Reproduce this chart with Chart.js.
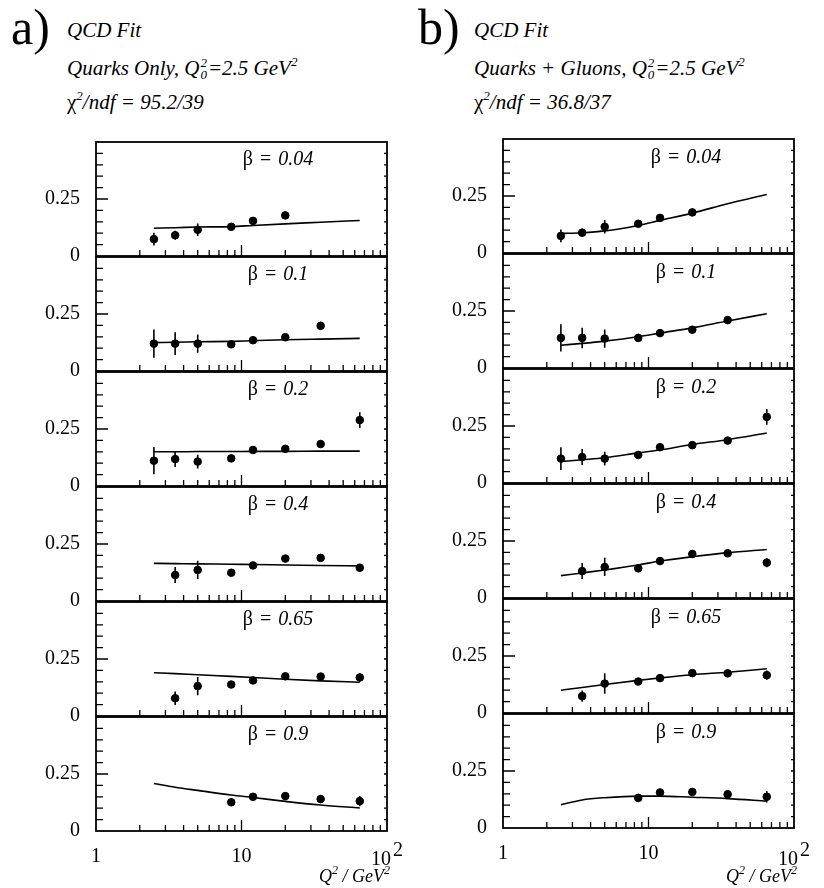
<!DOCTYPE html>
<html>
<head>
<meta charset="utf-8">
<script src="https://cdn.jsdelivr.net/npm/chart.js@4"></script>
<style>
  body { margin: 0; background: #fff; width: 824px; height: 888px; position: relative; overflow: hidden;
         font-family: "Liberation Serif", "Times New Roman", Tinos, "DejaVu Serif", "Noto Serif", FreeSerif, serif; color: #000; }
  canvas { position: absolute; }
  .txt { position: absolute; white-space: nowrap; line-height: 1; }
  .tag { font-size: 50px; }
  .hdr { font-size: 21px; font-style: italic; }
  .beta { font-size: 20px; transform: translate(-50%, -50%); word-spacing: 2px; }
  .beta i { font-style: italic; }
  .st { display: inline-flex; flex-direction: column; font-size: 13px; line-height: 12px; vertical-align: 8px; margin: 0 1px; }
  .up { font-size: 13px; vertical-align: 9px; }
  .axt { font-size: 18px; font-style: italic; }
  .axt .up { font-size: 12px; vertical-align: 8px; }
  .big { font-size: 20px; }
  .big sup { font-size: 20px; vertical-align: 9px; margin-left: 2px; }
</style>
</head>
<body>
<div id="wrap"></div>
<script>
// Q^2 bins (GeV^2) shared by all panels
const q2Bins = [2.5, 3.5, 5, 8.5, 12, 20, 35, 65];
const betaLabels = ["0.04", "0.1", "0.2", "0.4", "0.65", "0.9"];
const minorQ2Ticks = [2, 3, 4, 5, 6, 7, 8, 9, 20, 30, 40, 50, 60, 70, 80, 90];
const yTicks = [0.05, 0.1, 0.15, 0.2, 0.25, 0.3, 0.35, 0.4, 0.45];
const yLabelTicks = [0, 0.25];
const xLabelTicks = [1, 10];

// a) quarks only
const quarkPoints = [
  [0.074, 0.091, 0.115, 0.128, 0.154, 0.178, null, null],
  [0.12, 0.12, 0.12, 0.117, 0.135, 0.148, 0.198, null],
  [0.111, 0.118, 0.107, 0.121, 0.158, 0.163, 0.184, 0.289],
  [null, 0.114, 0.136, 0.124, 0.156, 0.186, 0.189, 0.146],
  [null, 0.078, 0.131, 0.138, 0.156, 0.174, 0.173, 0.169],
  [null, null, null, 0.126, 0.15, 0.153, 0.14, 0.131]
];
const quarkErrors = [
  [0.028, 0.02, 0.027, 0.008, 0.008, 0.012, null, null],
  [0.062, 0.05, 0.04, 0.008, 0.008, 0.008, 0.018, null],
  [0.06, 0.035, 0.03, 0.008, 0.006, 0.006, 0.012, 0.035],
  [null, 0.035, 0.04, 0.006, 0.006, 0.008, 0.015, 0.016],
  [null, 0.03, 0.04, 0.007, 0.007, 0.008, 0.01, 0.018],
  [null, null, null, 0.008, 0.006, 0.007, 0.01, 0.022]
];
const quarkFit = [
  [0.122, 0.124, 0.127, 0.129, 0.134, 0.141, 0.148, 0.156],
  [0.125, 0.126, 0.128, 0.13, 0.133, 0.137, 0.14, 0.143],
  [0.15, 0.15, 0.151, 0.151, 0.152, 0.152, 0.153, 0.153],
  [0.165, 0.164, 0.163, 0.161, 0.16, 0.158, 0.156, 0.154],
  [0.19, 0.186, 0.181, 0.174, 0.169, 0.161, 0.154, 0.148],
  [0.208, 0.192, 0.178, 0.158, 0.147, 0.13, 0.114, 0.101]
];

// b) quarks + gluons
const gluonPoints = [
  [0.075, 0.089, 0.115, 0.128, 0.154, 0.178, null, null],
  [0.132, 0.132, 0.129, 0.132, 0.153, 0.168, 0.21, null],
  [0.107, 0.114, 0.107, 0.123, 0.157, 0.166, 0.186, 0.29],
  [null, 0.118, 0.136, 0.13, 0.162, 0.193, 0.196, 0.155],
  [null, 0.074, 0.129, 0.138, 0.153, 0.175, 0.174, 0.166],
  [null, null, null, 0.132, 0.156, 0.158, 0.148, 0.137]
];
const gluonErrors = [
  [0.028, 0.018, 0.03, 0.007, 0.007, 0.01, null, null],
  [0.06, 0.045, 0.04, 0.007, 0.007, 0.01, 0.015, null],
  [0.05, 0.035, 0.03, 0.007, 0.006, 0.007, 0.012, 0.035],
  [null, 0.035, 0.04, 0.007, 0.007, 0.01, 0.01, 0.02],
  [null, 0.025, 0.045, 0.007, 0.007, 0.008, 0.008, 0.02],
  [null, null, null, 0.008, 0.006, 0.006, 0.01, 0.025]
];
const gluonFit = [
  [0.086, 0.089, 0.097, 0.121, 0.143, 0.175, 0.216, 0.257],
  [0.1, 0.108, 0.118, 0.137, 0.153, 0.176, 0.206, 0.238],
  [0.094, 0.102, 0.111, 0.132, 0.145, 0.169, 0.19, 0.219],
  [0.098, 0.11, 0.123, 0.145, 0.162, 0.181, 0.199, 0.213],
  [0.1, 0.112, 0.125, 0.143, 0.154, 0.168, 0.179, 0.194],
  [0.102, 0.123, 0.133, 0.14, 0.14, 0.135, 0.129, 0.118]
];

const wrap = document.getElementById("wrap");
const PANEL_H = 115, PANEL_W = 291, Y_AXIS_W = 70;
const SERIF = "'Liberation Serif', 'Times New Roman', Tinos, 'DejaVu Serif', 'Noto Serif', serif";

// frame + inward ticks, placed through the chart's own scales
const framePlugin = {
  id: "frame",
  afterDatasetsDraw(chart) {
    const { ctx, chartArea: a, scales } = chart;
    ctx.save();
    ctx.strokeStyle = "#000";
    ctx.lineWidth = 1.3;
    ctx.beginPath();
    yTicks.forEach((v) => {
      const py = scales.y.getPixelForValue(v);
      const len = Math.abs(v - 0.25) < 1e-6 ? 12 : 7;
      ctx.moveTo(a.left, py); ctx.lineTo(a.left + len, py);
      ctx.moveTo(a.right, py); ctx.lineTo(a.right - 3, py);
    });
    minorQ2Ticks.forEach((v) => {
      const px = scales.x.getPixelForValue(v);
      ctx.moveTo(px, a.bottom); ctx.lineTo(px, a.bottom - 6);
    });
    const p10 = scales.x.getPixelForValue(10);
    ctx.moveTo(p10, a.bottom); ctx.lineTo(p10, a.bottom - 11);
    ctx.stroke();
    ctx.lineWidth = 1.8;
    ctx.strokeRect(a.left, a.top, a.right - a.left, a.bottom - a.top);
    ctx.restore();
  }
};

function makePanel(areaLeft, areaTop, points, errors, fit, isBottom) {
  const padBottom = isBottom ? 0 : 12;
  const xH = isBottom ? 40 : 0;
  const canvas = document.createElement("canvas");
  canvas.width = Y_AXIS_W + PANEL_W + 8;
  canvas.height = 4 + PANEL_H + padBottom + xH;
  canvas.style.left = (areaLeft - Y_AXIS_W) + "px";
  canvas.style.top = (areaTop - 4) + "px";
  wrap.appendChild(canvas);

  const pts = [];
  const bars = [];
  q2Bins.forEach((q, i) => {
    if (points[i] == null) return;
    pts.push({ x: q, y: points[i] });
    bars.push({ x: q, y: points[i] - errors[i] }, { x: q, y: points[i] + errors[i] }, { x: q, y: null });
  });
  const curve = q2Bins.map((q, i) => ({ x: q, y: fit[i] }));

  new Chart(canvas, {
    type: "scatter",
    data: {
      datasets: [
        { data: curve, showLine: true, borderColor: "#000", borderWidth: 1.6, pointRadius: 0,
          cubicInterpolationMode: "monotone" },
        { data: bars, showLine: true, borderColor: "#000", borderWidth: 1.6, pointRadius: 0, spanGaps: false },
        { data: pts, backgroundColor: "#000", borderColor: "#000", pointRadius: 3.8, pointStyle: "circle" }
      ]
    },
    options: {
      responsive: false,
      animation: false,
      events: [],
      layout: { padding: { left: 0, top: 4, right: 8, bottom: padBottom } },
      plugins: { legend: { display: false }, tooltip: { enabled: false } },
      scales: {
        x: {
          type: "logarithmic", min: 1, max: 100,
          grid: { display: false, drawTicks: false }, border: { display: false },
          afterBuildTicks: (s) => { s.ticks = xLabelTicks.map((v) => ({ value: v })); },
          afterFit: (s) => { s.height = xH; s.paddingLeft = 0; s.paddingRight = 0; },
          ticks: { display: isBottom, padding: 14, color: "#000", maxRotation: 0,
                   font: { family: SERIF, size: 20 },
                   callback: (v) => String(v) }
        },
        y: {
          min: 0, max: 0.5,
          grid: { display: false, drawTicks: false }, border: { display: false },
          afterBuildTicks: (s) => { s.ticks = yLabelTicks.map((v) => ({ value: v })); },
          afterFit: (s) => { s.width = Y_AXIS_W; s.paddingTop = 0; s.paddingBottom = 0; },
          ticks: { padding: 16, color: "#000", font: { family: SERIF, size: 20 },
                   callback: (v) => String(v) }
        }
      }
    },
    plugins: [framePlugin]
  });
}

function addText(html, cls, x, y) {
  const d = document.createElement("div");
  d.className = "txt " + cls;
  d.style.left = x + "px";
  d.style.top = y + "px";
  d.innerHTML = html;
  wrap.appendChild(d);
}

const columns = [
  { left: 96, top: 141, points: quarkPoints, errors: quarkErrors, fit: quarkFit, betaX: 278, betaDy: 17,
    tag: "a)", tagX: 11, textX: 67, line2: "Quarks Only, Q<span class='st'><span>2</span><span>0</span></span>=2.5 GeV<span class='up'>2</span>",
    chi: "95.2/39" },
  { left: 503, top: 138, points: gluonPoints, errors: gluonErrors, fit: gluonFit, betaX: 686, betaDy: 18,
    tag: "b)", tagX: 418, textX: 474, line2: "Quarks + Gluons, Q<span class='st'><span>2</span><span>0</span></span>=2.5 GeV<span class='up'>2</span>",
    chi: "36.8/37" }
];

columns.forEach((c) => {
  for (let i = 0; i < 6; i++) {
    const top = c.top + i * PANEL_H;
    makePanel(c.left, top, c.points[i], c.errors[i], c.fit[i], i === 5);
    addText("&beta; = <i>" + betaLabels[i] + "</i>", "beta", c.betaX, top + c.betaDy);
  }
  addText(c.tag, "tag", c.tagX, 2);
  addText("QCD Fit", "hdr", c.textX, 20);
  addText(c.line2, "hdr", c.textX, 55);
  addText("<span style='font-style:normal'>&chi;</span><span class='up'>2</span>/ndf = " + c.chi, "hdr", c.textX, 89);
  addText("10<sup>2</sup>", "big", c.left + PANEL_W - 16, 839);
  addText("Q<span class='up'>2</span> / GeV<span class='up'>2</span>", "axt", c.left + PANEL_W - 68, 864);
});
</script>
</body>
</html>
